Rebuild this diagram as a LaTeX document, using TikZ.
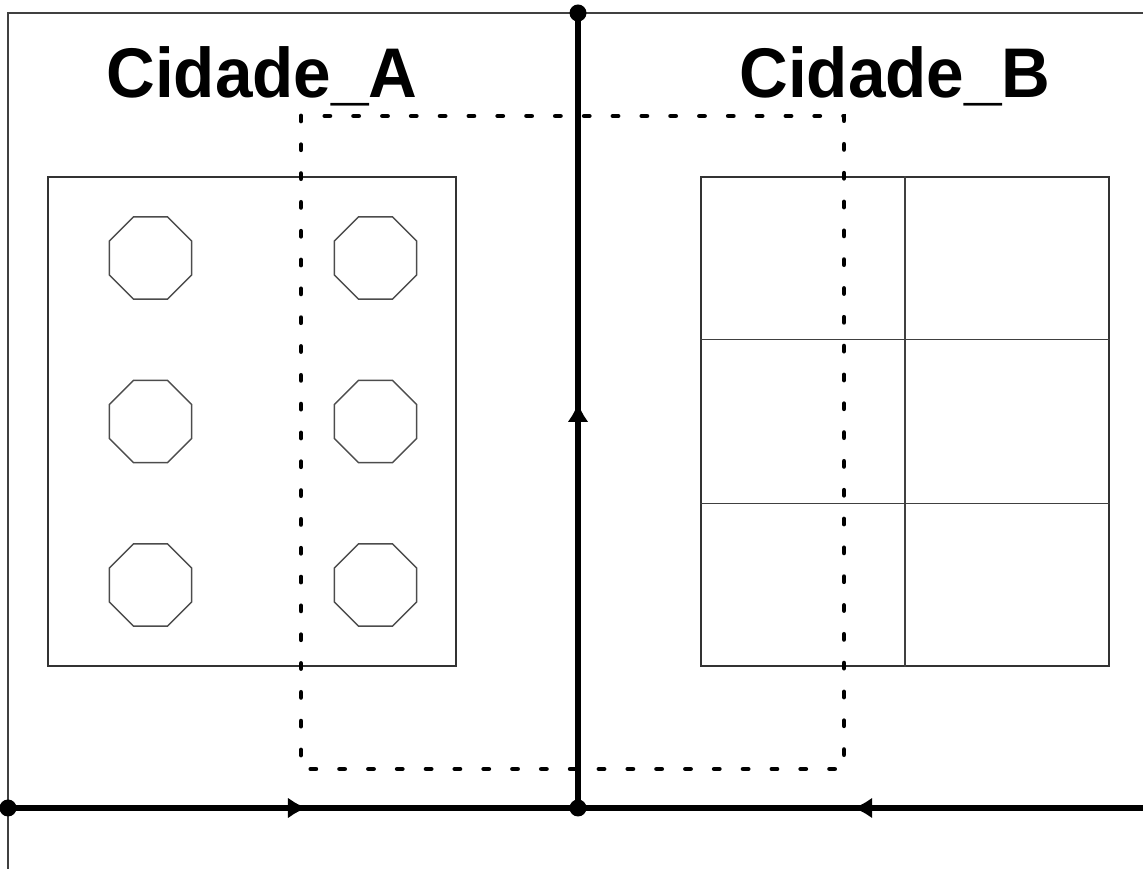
\documentclass[tikz,border=0pt]{standalone}
\usepackage{fontspec}
\newfontfamily\cityfont{Liberation Sans}
\usetikzlibrary{positioning}
\usetikzlibrary{shapes.geometric}
\usetikzlibrary{arrows.meta}
\usetikzlibrary{decorations.markings}
\usetikzlibrary{calc}

\begin{document}
\begin{tikzpicture}[node distance=1.635cm and 2.25cm,on grid,
    thinline/.style={line width=0.4pt,draw=black!75},
    road/.style={line width=1.85pt},
    junction/.style={circle,fill,inner sep=0pt,minimum size=0.17cm},
    block/.style={draw=black!80,line width=0.4pt,inner sep=0pt,minimum width=4.08cm,minimum height=4.89cm},
    octo/.style={regular polygon,regular polygon sides=8,draw=black!70,line width=0.4pt,inner sep=0pt,minimum size=0.89cm},
    zone/.style={line width=1.4pt,line cap=round,dash pattern=on 1.4pt off 6.8pt},
    midarrow/.style={postaction={decorate},decoration={markings,mark=at position #1 with {\arrow{Latex[length=5.5pt,width=6pt]}}}},
    cityname/.style={font=\cityfont\bfseries\fontsize{20}{24}\selectfont,inner sep=0pt,anchor=base,xscale=0.96}]
        % \draw[help lines] (0,0) grid (11,8);
      \useasboundingbox (0,0) rectangle (11.43,8.69);

      \draw[thinline] (0.08,0) -- (0.08,8.56) -- (11.43,8.56);

      \node[cityname] (nomeA) at (2.62,7.71) {Cidade\_A};
      \node[cityname] (nomeB) at (8.95,7.71) {Cidade\_B};

      % cidade A
      \node[block] (cidA) at (2.52,4.475) {};
      \node[octo]                (oct_1) at (1.505,6.11) {};
      \node[octo, right=of oct_1] (oct_2) {};
      \node[octo, below=of oct_1] (oct_3) {};
      \node[octo, right=of oct_3] (oct_4) {};
      \node[octo, below=of oct_3] (oct_5) {};
      \node[octo, right=of oct_5] (oct_6) {};

      % cidade B
      \node[block] (cidB) at (9.05,4.475) {};
      \draw[thinline] (cidB.north) -- (cidB.south);
      \draw[thinline] ($(cidB.north west)!1/3!(cidB.south west)$) -- ($(cidB.north east)!1/3!(cidB.south east)$);
      \draw[thinline] ($(cidB.north west)!2/3!(cidB.south west)$) -- ($(cidB.north east)!2/3!(cidB.south east)$);

      \draw[zone] (3.01,7.53) rectangle (8.44,1.0);

      % estradas
      \coordinate (east) at (11.53,0.61);
      \node[junction] (top)  at (5.78,8.56) {};
      \node[junction] (mid)  at (5.78,0.61) {};
      \node[junction] (west) at (0.08,0.61) {};

      \draw[road,midarrow=0.51]  (mid.center)  -- (top.center);
      \draw[road,midarrow=0.525] (west.center) -- (mid.center);
      \draw[road,midarrow=0.522] (east)        -- (mid.center);
\end{tikzpicture}
\end{document}
